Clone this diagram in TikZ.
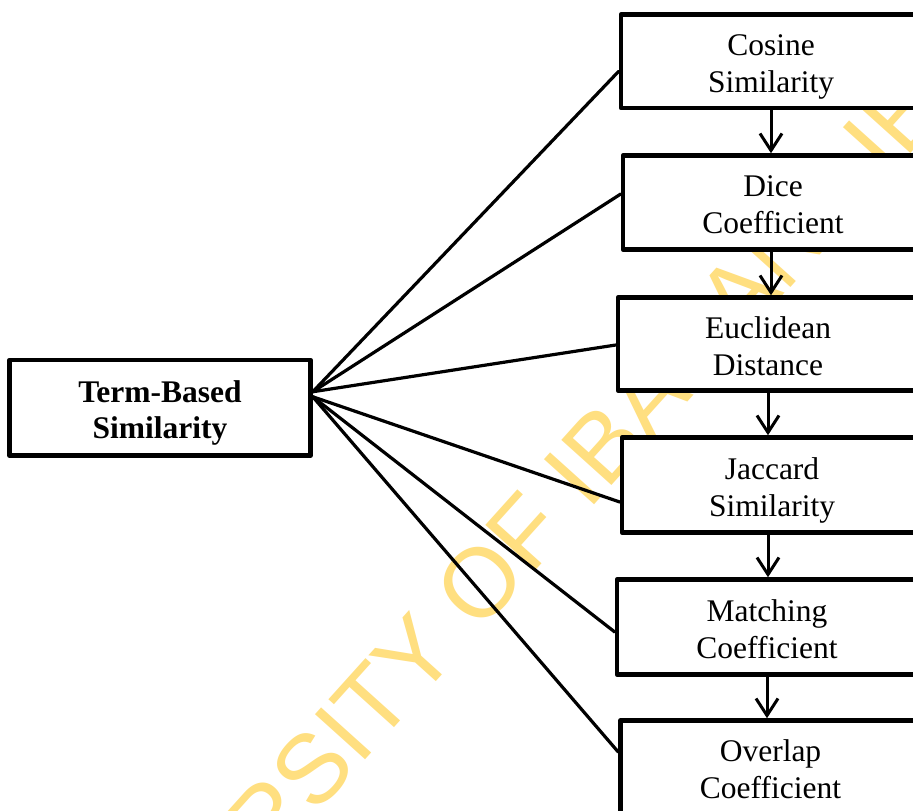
\documentclass[tikz,border=0pt]{standalone}
\usepackage{fontspec}
\setmainfont{Liberation Serif}
\newfontfamily\wmfont{Liberation Sans}
\usetikzlibrary{arrows.meta}
\definecolor{wmyellow}{RGB}{255,223,128}
\begin{document}
\begin{tikzpicture}[x=1pt,y=-1pt,
  box/.style={draw=black, line width=4.5pt, line join=round, fill=white,
    inner sep=0pt, align=center, minimum width=300pt,
    text height=62pt, text depth=0pt,
    font=\fontsize{31.5}{36.7}\selectfont},
  rbox/.style={box, minimum height=94pt},
  hubbox/.style={box, minimum width=301pt, minimum height=95.5pt,
    font=\fontsize{31.5}{36.7}\selectfont\bfseries},
  link/.style={line width=3.2pt, line cap=round},
  flow/.style={line width=3pt, -{Straight Barb[length=17pt,width=22pt]}},
  stamp/.style={text=wmyellow, inner sep=0pt, rotate=48, anchor=base west,
    font=\wmfont\fontsize{98}{98}\selectfont},
]
\useasboundingbox (0,0) rectangle (913,811);
\clip (0,0) rectangle (913,811);
\fill[white] (0,0) rectangle (913,811);

% library stamp in the background
\node[stamp] (wm) at (67.6,1090.6) {UNIVERSITY OF IBADAN LIBRARY};

% main concept
\node[hubbox] (tb) at (160,407.75) {Term-Based\\Similarity};

% similarity measures
\node[rbox, minimum height=93.5pt] (cos) at (771,61.25) {Cosine\\Similarity};
\node[rbox] (dice) at (773,202.5) {Dice\\Coefficient};
\node[rbox, minimum height=93pt] (euc) at (768,344) {Euclidean\\Distance};
\node[rbox, minimum height=95pt] (jac) at (772,485) {Jaccard\\Similarity};
\node[rbox, minimum height=95pt] (mat) at (767,627) {Matching\\Coefficient};
\node[rbox] (ovl) at (770.5,767.5) {Overlap\\Coefficient};

% fan of links
\coordinate (hubA) at ([yshift=16pt]tb.east);
\coordinate (hubB) at ([yshift=11pt]tb.east);
\draw[link] (hubA) -- ([yshift=-10pt]cos.west);
\draw[link] (hubA) -- ([yshift=8.5pt]dice.west);
\draw[link] (hubA) -- ([yshift=-1pt]euc.west);
\draw[link] (hubB) -- ([yshift=-17pt]jac.west);
\draw[link] (hubB) -- ([yshift=-5pt]mat.west);
\draw[link] (hubB) -- ([yshift=15.5pt]ovl.west);

% chain of arrows
\draw[flow] (cos.south) -- (cos.south |- dice.north);
\draw[flow] ([xshift=-2pt]dice.south) -- ([xshift=-2pt]dice.south |- euc.north);
\draw[flow] (euc.south) -- (euc.south |- jac.north);
\draw[flow] ([xshift=-4pt]jac.south) -- ([xshift=-4pt]jac.south |- mat.north);
\draw[flow] (mat.south) -- (mat.south |- ovl.north);
\end{tikzpicture}
\end{document}
